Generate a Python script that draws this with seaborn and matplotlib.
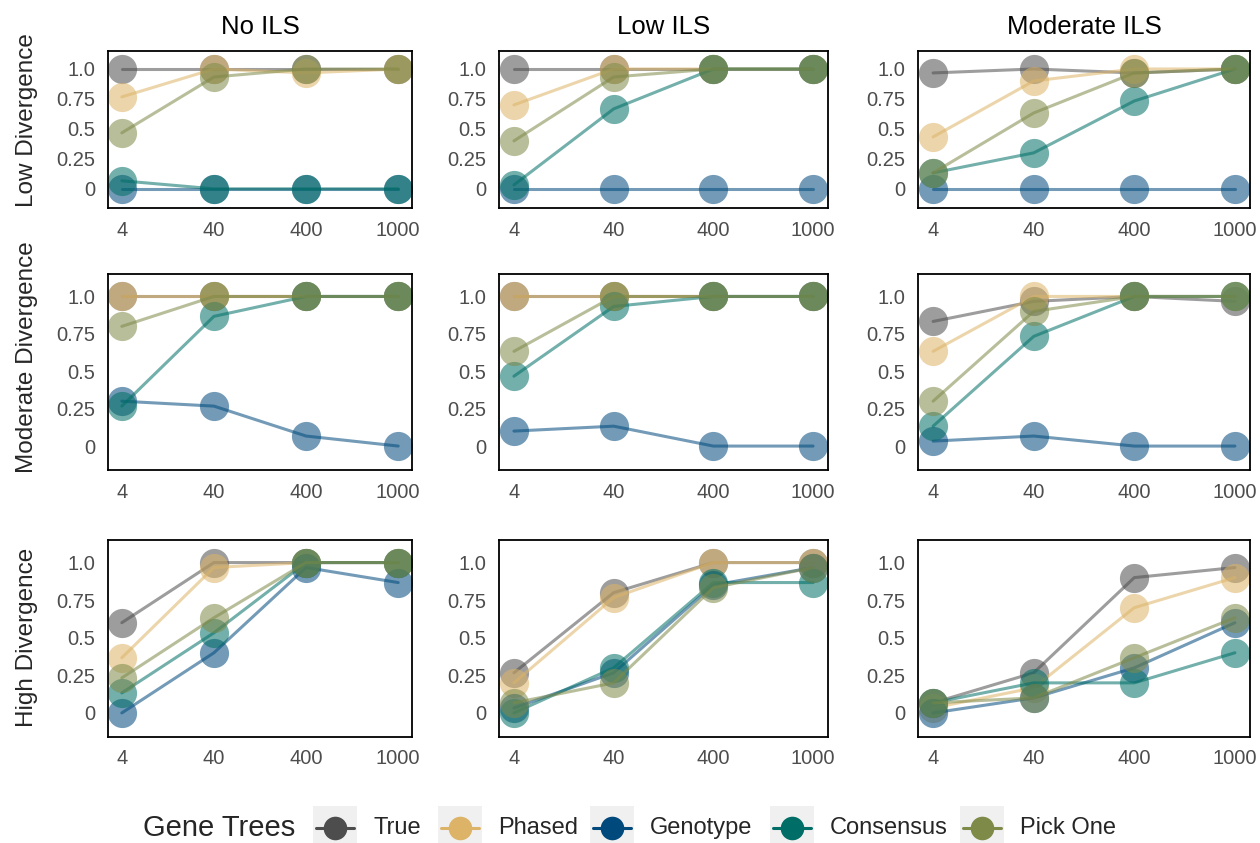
import numpy as np
import pandas as pd
import seaborn as sns
import matplotlib.pyplot as plt
from matplotlib.lines import Line2D
from matplotlib.patches import Rectangle

sns.set_style("white")
plt.rcParams['font.family'] = ['Liberation Sans', 'DejaVu Sans']

n_trees = ["4", "40", "400", "1000"]
methods = ["True", "Phased", "Genotype", "Consensus", "Pick One"]
colors = ["#4D4D4D", "#DDB467", "#00497C", "#006E66", "#7E8A48"]
ils_levels = ["No ILS", "Low ILS", "Moderate ILS"]
div_levels = ["Low Divergence", "Moderate Divergence", "High Divergence"]

# proportion correct, one list per method, 4 values (4, 40, 400, 1000 gene trees)
# Low divergence
low_no_true = [1.0, 1.0, 1.0, 1.0]
low_no_phased = [0.767, 1.0, 0.967, 1.0]
low_no_geno = [0.0, 0.0, 0.0, 0.0]
low_no_cons = [0.067, 0.0, 0.0, 0.0]
low_no_pick = [0.467, 0.933, 1.0, 1.0]

low_low_true = [1.0, 1.0, 1.0, 1.0]
low_low_phased = [0.7, 1.0, 1.0, 1.0]
low_low_geno = [0.0, 0.0, 0.0, 0.0]
low_low_cons = [0.033, 0.667, 1.0, 1.0]
low_low_pick = [0.4, 0.933, 1.0, 1.0]

low_mod_true = [0.967, 1.0, 0.967, 1.0]
low_mod_phased = [0.433, 0.9, 1.0, 1.0]
low_mod_geno = [0.0, 0.0, 0.0, 0.0]
low_mod_cons = [0.133, 0.3, 0.733, 1.0]
low_mod_pick = [0.133, 0.633, 0.967, 1.0]

# Moderate divergence
mod_no_true = [1.0, 1.0, 1.0, 1.0]
mod_no_phased = [1.0, 1.0, 1.0, 1.0]
mod_no_geno = [0.3, 0.267, 0.067, 0.0]
mod_no_cons = [0.267, 0.867, 1.0, 1.0]
mod_no_pick = [0.8, 1.0, 1.0, 1.0]

mod_low_true = [1.0, 1.0, 1.0, 1.0]
mod_low_phased = [1.0, 1.0, 1.0, 1.0]
mod_low_geno = [0.1, 0.133, 0.0, 0.0]
mod_low_cons = [0.467, 0.933, 1.0, 1.0]
mod_low_pick = [0.633, 1.0, 1.0, 1.0]

mod_mod_true = [0.833, 0.967, 1.0, 0.967]
mod_mod_phased = [0.633, 1.0, 1.0, 1.0]
mod_mod_geno = [0.033, 0.067, 0.0, 0.0]
mod_mod_cons = [0.133, 0.733, 1.0, 1.0]
mod_mod_pick = [0.3, 0.9, 1.0, 1.0]

# High divergence
high_no_true = [0.6, 1.0, 1.0, 1.0]
high_no_phased = [0.367, 0.967, 1.0, 1.0]
high_no_geno = [0.0, 0.4, 0.967, 0.867]
high_no_cons = [0.133, 0.533, 1.0, 1.0]
high_no_pick = [0.233, 0.633, 1.0, 1.0]

high_low_true = [0.267, 0.8, 1.0, 1.0]
high_low_phased = [0.2, 0.767, 1.0, 1.0]
high_low_geno = [0.033, 0.267, 0.85, 0.967]
high_low_cons = [0.0, 0.3, 0.867, 0.867]
high_low_pick = [0.067, 0.2, 0.833, 0.967]

high_mod_true = [0.067, 0.267, 0.9, 0.967]
high_mod_phased = [0.033, 0.167, 0.7, 0.9]
high_mod_geno = [0.0, 0.1, 0.3, 0.6]
high_mod_cons = [0.067, 0.2, 0.2, 0.4]
high_mod_pick = [0.067, 0.1, 0.367, 0.633]

grid = {
    ("Low Divergence", "No ILS"): [low_no_true, low_no_phased, low_no_geno, low_no_cons, low_no_pick],
    ("Low Divergence", "Low ILS"): [low_low_true, low_low_phased, low_low_geno, low_low_cons, low_low_pick],
    ("Low Divergence", "Moderate ILS"): [low_mod_true, low_mod_phased, low_mod_geno, low_mod_cons, low_mod_pick],
    ("Moderate Divergence", "No ILS"): [mod_no_true, mod_no_phased, mod_no_geno, mod_no_cons, mod_no_pick],
    ("Moderate Divergence", "Low ILS"): [mod_low_true, mod_low_phased, mod_low_geno, mod_low_cons, mod_low_pick],
    ("Moderate Divergence", "Moderate ILS"): [mod_mod_true, mod_mod_phased, mod_mod_geno, mod_mod_cons, mod_mod_pick],
    ("High Divergence", "No ILS"): [high_no_true, high_no_phased, high_no_geno, high_no_cons, high_no_pick],
    ("High Divergence", "Low ILS"): [high_low_true, high_low_phased, high_low_geno, high_low_cons, high_low_pick],
    ("High Divergence", "Moderate ILS"): [high_mod_true, high_mod_phased, high_mod_geno, high_mod_cons, high_mod_pick],
}

rows = []
for (div, ils), series in grid.items():
    for m, vals in zip(methods, series):
        for t, v in zip(n_trees, vals):
            rows.append({"div": div, "ils": ils, "method": m, "trees": t, "value": v})
df = pd.DataFrame(rows)

W, H = 1260, 843
fig = plt.figure(figsize=(W / 100, H / 100), dpi=100)

# panel boxes in pixels (left, right) / (top, bottom)
cols_px = [(108, 412), (499, 828), (918, 1250)]
rows_px = [(51, 208), (274, 470), (540, 737)]
row_label_y = [120, 357, 637]

palette = dict(zip(methods, colors))
ink = "#4D4D4D"

for i, div in enumerate(div_levels):
    for j, ils in enumerate(ils_levels):
        l, r = cols_px[j]
        t, b = rows_px[i]
        ax = fig.add_axes([l / W, 1 - b / H, (r - l) / W, (b - t) / H])
        sub = df[(df["div"] == div) & (df["ils"] == ils)]
        sns.lineplot(data=sub, x="trees", y="value", hue="method",
                     hue_order=methods, palette=palette, marker="o",
                     markersize=21, markeredgewidth=0, linewidth=2.2,
                     alpha=0.55, errorbar=None, legend=False, ax=ax)
        ax.set_xlim(-0.15, 3.15)
        ax.set_ylim(-0.16, 1.15)
        ax.set_yticks([0, 0.25, 0.5, 0.75, 1.0])
        ax.set_yticklabels(["0", "0.25", "0.5", "0.75", "1.0"])
        ax.set_xlabel("")
        ax.set_ylabel("")
        for s in ax.spines.values():
            s.set_visible(True)
            s.set_color("black")
            s.set_linewidth(1.3)
        ax.tick_params(axis="both", length=5, width=1.5, color="#333333",
                       labelcolor=ink, labelsize=14.5, pad=4)
        if i == 0:
            ax.set_title(ils, fontsize=18.5, pad=12, color="black")
        if j == 0:
            fig.text(27 / W, 1 - row_label_y[i] / H, div, rotation=90,
                     ha="center", va="center", fontsize=17.5)

# legend along the bottom
ly = 1 - 828 / H
fig.text(143 / W, ly, "Gene Trees", ha="left", va="center", fontsize=21)
box_x = [313, 438, 590, 770, 960]
for bx, m, c in zip(box_x, methods, colors):
    fig.patches.append(Rectangle((bx / W, 1 - 850 / H), 44 / W, 44 / H,
                                 transform=fig.transFigure, facecolor="#EBEBEB",
                                 edgecolor="none", alpha=0.7))
    cx = (bx + 22) / W
    fig.lines.append(Line2D([(bx + 3) / W, (bx + 41) / W], [ly, ly],
                            transform=fig.transFigure, color=c, linewidth=2.2))
    fig.lines.append(Line2D([cx], [ly], transform=fig.transFigure, marker="o",
                            markersize=17, color=c, markeredgewidth=0))
    fig.text((bx + 60) / W, ly, m, ha="left", va="center", fontsize=17)

fig.savefig("out.png", dpi=100)
